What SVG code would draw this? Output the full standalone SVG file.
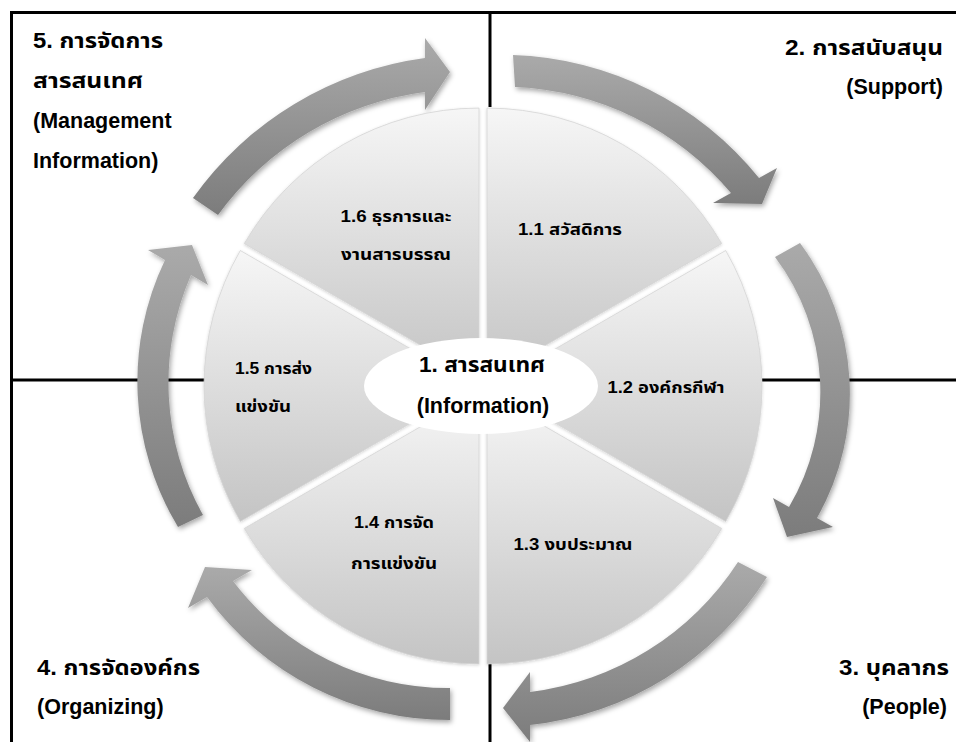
<svg xmlns="http://www.w3.org/2000/svg" width="956" height="742" viewBox="0 0 956 742">
  <defs>
    <linearGradient id="gSector" x1="0" y1="0" x2="0" y2="1">
      <stop offset="0" stop-color="#f6f6f6"/>
      <stop offset="1" stop-color="#c4c4c4"/>
    </linearGradient>
    <linearGradient id="gArrow" x1="0" y1="0" x2="0" y2="1">
      <stop offset="0" stop-color="#aaaaaa"/>
      <stop offset="1" stop-color="#7c7c7c"/>
    </linearGradient>
    <filter id="shadow" x="-20%" y="-20%" width="140%" height="140%">
      <feDropShadow dx="1.5" dy="2.5" stdDeviation="2.5" flood-color="#000" flood-opacity="0.35"/>
    </filter>
    <filter id="softShadow" x="-10%" y="-10%" width="120%" height="120%">
      <feDropShadow dx="0" dy="1" stdDeviation="1.5" flood-color="#000" flood-opacity="0.18"/>
    </filter>
  </defs>
  <style>
    .frame { stroke: #000; stroke-width: 3; fill: none; }
    .sector { fill: url(#gSector); stroke: #d4d4d4; stroke-width: 0.8; filter: url(#softShadow); }
    .arrow { fill: url(#gArrow); filter: url(#shadow); }
    text { font-family: "Liberation Sans", "Noto Sans Thai", "Noto Sans", "DejaVu Sans", Arial, sans-serif; font-weight: bold; fill: #000; }
    .title { font-size: 21.5px; }
    .label { font-size: 16.5px; }
    .center { font-size: 21.5px; }
  </style>

  <rect width="956" height="742" fill="#ffffff"/>

  <g id="frame-lines">
    <path class="frame" d="M10,12.5 H956"/>
    <path class="frame" d="M11.5,11 V742"/>
    <path class="frame" d="M490,12 V107"/>
    <path class="frame" d="M490,663 V742"/>
    <path class="frame" d="M11,380 H210"/>
    <path class="frame" d="M762,380 H956"/>
  </g>

  <g id="connectors">
    <path id="arrow-5-to-2" class="arrow" d="M193,198 A340,340 0 0 1 425,58 L425,38 L450,72 L425,110 L425,92 A305,305 0 0 0 218,215 Z"/>
    <path id="arrow-2-a" class="arrow" d="M513,55 A330,330 0 0 1 759,178 L777,168 L762,204 L713,203 L731,193 A300,300 0 0 0 515,87 Z"/>
    <path id="arrow-2-to-3" class="arrow" d="M800,243 A252,252 0 0 1 817,518 L833,527 L787,537 L773,498 L789,507 A225,225 0 0 0 775,257 Z"/>
    <path id="arrow-3-to-4" class="arrow" d="M767,577 A320,320 0 0 1 530,725 L530,742 L503,708 L530,672 L530,692 A290,290 0 0 0 738,562 Z"/>
    <path id="arrow-4-a" class="arrow" d="M450,720 A300,300 0 0 1 207,597 L188,608 L205,567 L252,570 L233,581 A270,270 0 0 0 450,688 Z"/>
    <path id="arrow-4-to-5" class="arrow" d="M178,527 A281,281 0 0 1 165,260 L148,250 L192,245 L208,285 L191,275 A270,270 0 0 0 203,515 Z"/>
  </g>

  <g id="node-1-1">
    <path class="sector" d="M487,379.07 L487,108.07 A271,271 0 0 1 721.69,243.57 Z"/>
    <text class="label" x="570" y="235" text-anchor="middle" textLength="104" lengthAdjust="spacingAndGlyphs">1.1 สวัสดิการ</text>
  </g>
  <g id="node-1-2">
    <path class="sector" d="M491,386 L725.69,250.5 A271,271 0 0 1 725.69,521.5 Z"/>
    <text class="label" x="666" y="393" text-anchor="middle" textLength="117" lengthAdjust="spacingAndGlyphs">1.2 องค์กรกีฬา</text>
  </g>
  <g id="node-1-3">
    <path class="sector" d="M487,392.93 L721.69,528.43 A271,271 0 0 1 487,663.93 Z"/>
    <text class="label" x="573" y="550" text-anchor="middle" textLength="119" lengthAdjust="spacingAndGlyphs">1.3 งบประมาณ</text>
  </g>
  <g id="node-1-4">
    <path class="sector" d="M479,392.93 L479,663.93 A271,271 0 0 1 244.31,528.43 Z"/>
    <text class="label" x="394" y="528" text-anchor="middle" textLength="80" lengthAdjust="spacingAndGlyphs">1.4 การจัด</text>
    <text class="label" x="394" y="569" text-anchor="middle" textLength="86" lengthAdjust="spacingAndGlyphs">การแข่งขัน</text>
  </g>
  <g id="node-1-5">
    <path class="sector" d="M475,386 L240.31,521.5 A271,271 0 0 1 240.31,250.5 Z"/>
    <text class="label" x="235" y="374" textLength="77" lengthAdjust="spacingAndGlyphs">1.5 การส่ง</text>
    <text class="label" x="235" y="412" textLength="56" lengthAdjust="spacingAndGlyphs">แข่งขัน</text>
  </g>
  <g id="node-1-6">
    <path class="sector" d="M479,379.07 L244.31,243.57 A271,271 0 0 1 479,108.07 Z"/>
    <text class="label" x="396" y="222" text-anchor="middle" textLength="111" lengthAdjust="spacingAndGlyphs">1.6 ธุรการและ</text>
    <text class="label" x="396" y="260" text-anchor="middle" textLength="110" lengthAdjust="spacingAndGlyphs">งานสารบรรณ</text>
  </g>

  <g id="node-1-center">
    <ellipse cx="481" cy="386" rx="117" ry="48" fill="#ffffff"/>
    <text class="center" x="482" y="372" text-anchor="middle" textLength="126" lengthAdjust="spacingAndGlyphs">1. สารสนเทศ</text>
    <text class="center" x="483" y="413" text-anchor="middle">(Information)</text>
  </g>

  <g id="node-5">
    <text class="title" x="33" y="48" textLength="130" lengthAdjust="spacingAndGlyphs">5. การจัดการ</text>
    <text class="title" x="33" y="88" textLength="110" lengthAdjust="spacingAndGlyphs">สารสนเทศ</text>
    <text class="title" x="33" y="128">(Management</text>
    <text class="title" x="33" y="168">Information)</text>
  </g>
  <g id="node-2">
    <text class="title" x="943" y="55" text-anchor="end" textLength="158" lengthAdjust="spacingAndGlyphs">2. การสนับสนุน</text>
    <text class="title" x="943" y="94" text-anchor="end">(Support)</text>
  </g>
  <g id="node-3">
    <text class="title" x="949" y="675" text-anchor="end" textLength="110" lengthAdjust="spacingAndGlyphs">3. บุคลากร</text>
    <text class="title" x="947" y="714" text-anchor="end">(People)</text>
  </g>
  <g id="node-4">
    <text class="title" x="37" y="675" textLength="163" lengthAdjust="spacingAndGlyphs">4. การจัดองค์กร</text>
    <text class="title" x="37" y="714">(Organizing)</text>
  </g>
</svg>
